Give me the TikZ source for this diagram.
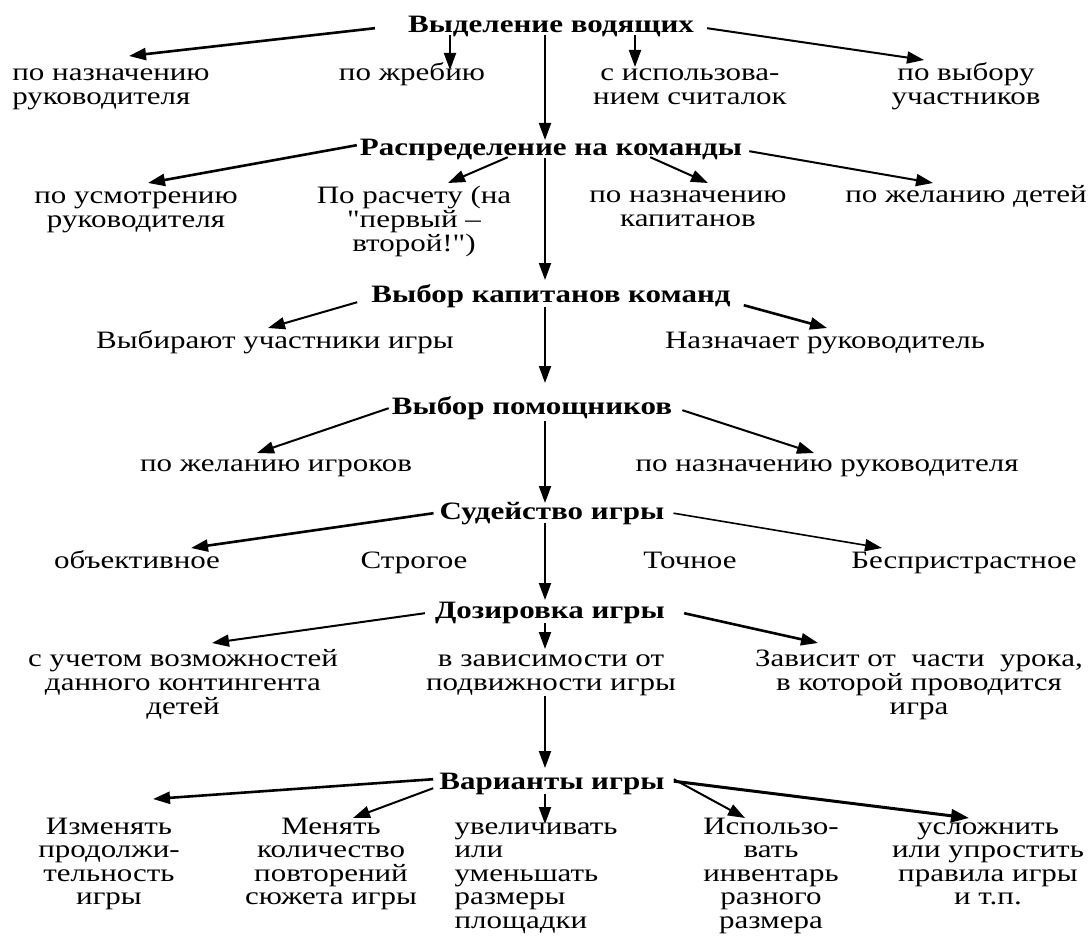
\documentclass[tikz,border=0pt]{standalone}
\usepackage{fontspec}
\setmainfont{Liberation Serif}[FakeStretch=1.24]
\newfontfamily\nq{Liberation Serif}[FakeStretch=1.24, Ligatures=TeXOff]
\usetikzlibrary{arrows.meta,calc}
\newcommand\T{\rule{0pt}{18pt}}
\newcommand\dq{{\nq"}}
\begin{document}
\begin{tikzpicture}[x=1pt,y=-1pt,
  hdr/.style={font=\bfseries\fontsize{25}{24}\selectfont, inner sep=0pt, anchor=north, align=center},
  lbl/.style={font=\fontsize{25}{24}\selectfont, inner sep=0pt, anchor=north, align=center},
  lbll/.style={lbl, align=left},
  lastrow/.style={font=\fontsize{25}{23.5}\selectfont},
  arr/.style={-{Triangle[length=17pt,width=12pt]}, line width=2pt},
  thin arr/.style={arr, line width=1.6pt},
  thick arr/.style={arr, line width=2.6pt}]
\useasboundingbox (0,0) rectangle (1091,936);
\coordinate (sp) at (545,0);
% headers
\node[hdr] (H1) at (551,14)  {\T Выделение водящих};
\node[hdr] (H2) at (551,137) {\T Распределение на команды};
\node[hdr] (H3) at (551,284) {\T Выбор капитанов команд};
\node[hdr] (H4) at (532,396) {\T Выбор помощников};
\node[hdr] (H5) at (552,501) {\T Судейство игры};
\node[hdr] (H6) at (550,600) {\T Дозировка игры};
\node[hdr] (H7) at (552,771) {\T Варианты игры};
% row 1
\node[lbll] (C11) at (111,62) {\T по назначению\\руководителя};
\node[lbl]  (C12) at (412,62) {\T по жребию};
\node[lbl]  (C13) at (690,62) {\T с использова-\\нием считалок};
\node[lbl]  (C14) at (966,62) {\T по выбору\\участников};
% row 2
\node[lbl] (C21) at (136,185) {\T по усмотрению\\руководителя};
\node[lbl] (C22) at (414,185) {\T По расчету (на\\\dq первый –\\второй!\dq)};
\node[lbl] (C23) at (688,184) {\T по назначению\\капитанов};
\node[lbl] (C24) at (966,184) {\T по желанию детей};
% row 3
\node[lbl] (C31) at (275,330) {\T Выбирают участники игры};
\node[lbl] (C32) at (825,330) {\T Назначает руководитель};
% row 4
\node[lbl] (C41) at (276,453) {\T по желанию игроков};
\node[lbl] (C42) at (827,453) {\T по назначению руководителя};
% row 5
\node[lbl] (C51) at (137,550) {\T объективное};
\node[lbl] (C52) at (414,550) {\T Строгое};
\node[lbl] (C53) at (690,550) {\T Точное};
\node[lbl] (C54) at (964,550) {\T Беспристрастное};
% row 6
\node[lbl] (C61) at (183,648) {\T с учетом возможностей\\данного контингента\\детей};
\node[lbl] (C62) at (551,648) {\T в зависимости от\\подвижности игры};
\node[lbl] (C63) at (919,648) {\T Зависит от\ \ части\ \ урока,\\в которой проводится\\игра};
% row 7
\node[lbl,lastrow]  (C71) at (109,816) {\T Изменять\\продолжи-\\тельность\\игры};
\node[lbl,lastrow]  (C72) at (331,816) {\T Менять\\количество\\повторений\\сюжета игры};
\node[lbll,lastrow] (C73) at (536,816) {\T увеличивать\\или\\уменьшать\\размеры\\площадки};
\node[lbl,lastrow]  (C74) at (771,816) {\T Использо-\\вать\\инвентарь\\разного\\размера};
\node[lbl,lastrow]  (C75) at (988,816) {\T усложнить\\или упростить\\правила игры\\и т.п.};
% tips for vertical arrows
\coordinate (t2) at ($(C12.north)+(38,8)$);
\coordinate (t3) at ($(C13.north)+(-55,5)$);
% level 1
\draw[thick arr] ($(H1.base west)+(-33,-4)$) -- ($(C11.north)+(18,-6)$);
\draw[arr] ($(H1.base -| t2)+(0,3)$) -- (t2);
\draw[arr] ($(H1.base -| t3)+(0,3)$) -- (t3);
\draw[arr] ($(H1.base east)+(13,-4)$) -- ($(C14.north)+(-42,-2)$);
\draw[arr] ($(H1.base -| sp)+(0,3)$) -- ($(H2.north -| sp)+(0,3)$);
% level 2
\draw[thick arr] ($(H2.base west)+(-3,-10)$) -- ($(C21.north)+(12,-2)$);
\draw[arr] ($(H2.base west)+(148,2)$) -- ($(C22.north)+(34,-2)$);
\draw[arr] ($(H2.base east)+(-92,2)$) -- ($(C23.north)+(20,-1)$);
\draw[arr] ($(H2.base east)+(7,-4)$) -- ($(C24.north)+(-33,-1)$);
\draw[arr] ($(H2.base -| sp)+(0,3)$) -- ($(H3.north -| sp)+(0,-4)$);
% level 3
\draw[arr] ($(H3.base west)+(-14,0)$) -- ($(C31.north)+(-7,-2)$);
\draw[thick arr] ($(H3.base east)+(13,3)$) -- ($(C32.north)+(2,-2)$);
\draw[arr] ($(H3.base -| sp)+(0,5)$) -- ($(H4.north -| sp)+(0,-13)$);
% level 4
\draw[arr] ($(H4.base west)+(-3,-6)$) -- ($(C41.north)+(-19,0)$);
\draw[arr] ($(H4.base east)+(10,-4)$) -- ($(C42.north)+(-13,0)$);
\draw[arr] ($(H4.base -| sp)+(0,7)$) -- ($(H5.north -| sp)+(0,2)$);
% level 5
\draw[thick arr] ($(H5.base west)+(-6,-6)$) -- ($(C51.north)+(54,-2)$);
\draw[thin arr] ($(H5.base east)+(9,-6)$) -- ($(C54.north)+(-82,-2)$);
\draw[arr] ($(H5.base -| sp)+(0,4)$) -- (H6.north -| sp);
% level 6
\draw[arr] ($(H6.base west)+(-10,-5)$) -- ($(C61.north)+(29,-5)$);
\draw[arr] ($(H6.base -| sp)+(0,5)$) -- ($(C62.north -| sp)+(0,1)$);
\draw[thick arr] ($(H6.base east)+(19,-5)$) -- ($(C63.north)+(-101,-5)$);
\draw[arr] (C62.south -| sp) -- ($(H7.north -| sp)+(0,-3)$);
% level 7
\draw[thick arr] ($(H7.base west)+(-6,-10)$) -- ($(C71.north)+(44,-17)$);
\draw[arr] ($(H7.base west)+(-6,-1)$) -- ($(C72.north)+(22,2)$);
\draw[arr] ($(H7.base -| sp)+(0,5)$) -- ($(C73.north -| sp)+(0,8)$);
\draw[arr] ($(H7.base east)+(9,-10)$) -- ($(C74.north)+(-26,2)$);
\draw[line width=3pt, -{Triangle[length=18pt,width=13pt]}] ($(H7.base east)+(9,-8)$) -- ($(C75.north)+(-19,2)$);
\end{tikzpicture}
\end{document}
